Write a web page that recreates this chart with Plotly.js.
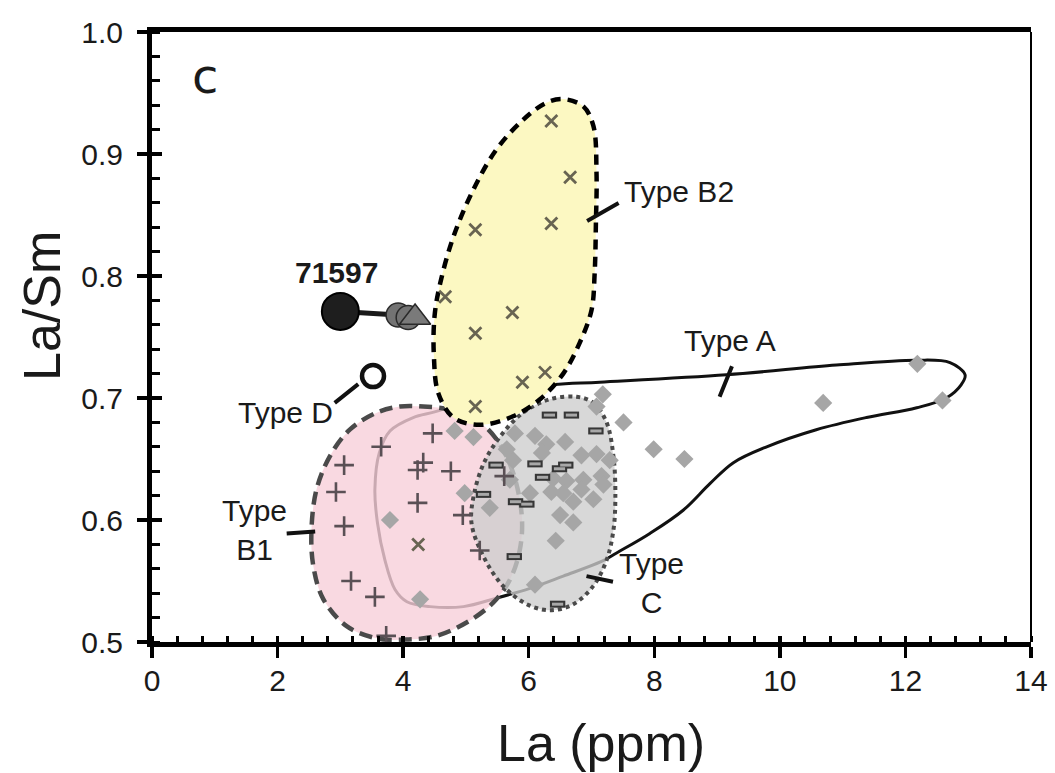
<!DOCTYPE html>
<html>
<head>
<meta charset="utf-8">
<script src="https://cdn.plot.ly/plotly-3.0.1.min.js"></script>
<style>
  html, body { margin: 0; padding: 0; background: #ffffff; }
  #chart { width: 1055px; height: 773px; }
</style>
</head>
<body>
<div id="chart"></div>
<script>
// ---- sample data: La (ppm) vs La/Sm ----
const typeA_La   = [4.82, 5.12, 4.98, 3.79, 4.27, 7.18, 7.08, 7.51, 7.99, 8.48, 10.69, 12.19, 12.59,
                    5.78, 6.10, 6.28, 6.58, 6.21, 6.84, 7.08, 7.29, 5.75, 5.70, 6.39, 6.60, 6.87,
                    7.16, 7.19, 6.36, 6.55, 6.71, 6.84, 7.03, 6.02, 5.38, 6.50, 6.71, 6.43, 6.10, 5.65];
const typeA_LaSm = [0.673, 0.668, 0.622, 0.600, 0.535, 0.703, 0.693, 0.680, 0.658, 0.650, 0.696, 0.728, 0.698,
                    0.671, 0.669, 0.662, 0.664, 0.655, 0.653, 0.654, 0.649, 0.649, 0.633, 0.634, 0.632, 0.633,
                    0.636, 0.629, 0.623, 0.622, 0.615, 0.625, 0.617, 0.622, 0.610, 0.604, 0.598, 0.583, 0.547, 0.658];

const typeB1_La   = [4.47, 3.65, 3.06, 4.32, 4.23, 4.76, 2.93, 4.23, 4.95, 3.06, 5.22, 3.17, 3.55, 3.73, 5.61];
const typeB1_LaSm = [0.671, 0.660, 0.645, 0.647, 0.641, 0.640, 0.623, 0.614, 0.604, 0.595, 0.575, 0.550, 0.537, 0.505, 0.636];

const typeB2_La   = [6.36, 6.66, 6.36, 5.15, 4.67, 5.74, 5.15, 6.26, 5.90, 5.15, 4.24];
const typeB2_LaSm = [0.927, 0.881, 0.843, 0.838, 0.783, 0.770, 0.753, 0.721, 0.713, 0.693, 0.580];

const typeC_La   = [6.33, 6.68, 7.07, 6.10, 6.59, 6.49, 6.22, 5.48, 5.28, 5.79, 5.97, 5.77, 6.46];
const typeC_LaSm = [0.686, 0.686, 0.673, 0.646, 0.645, 0.642, 0.635, 0.645, 0.621, 0.615, 0.613, 0.570, 0.531];

const typeD_La   = [3.52];
const typeD_LaSm = [0.718];

// 71597: whole-rock value and its gray companions
const s71597_La     = [3.00];
const s71597_LaSm   = [0.771];
const s71597g_La    = [3.92, 4.08];
const s71597g_LaSm  = [0.768, 0.766];
const s71597t_La    = [4.19];
const s71597t_LaSm  = [0.766];

// ---- field outlines ----
const fieldA_La   = [4.53, 5.40, 6.39, 7.13, 9.15, 10.90, 12.18, 12.71, 12.95, 12.89, 12.65, 12.18, 11.38,
                     10.58, 9.79, 9.26, 8.89, 8.46, 7.93, 7.40, 7.16, 6.55, 6.02, 5.49, 4.96, 4.43,
                     4.06, 3.87, 3.71, 3.59, 3.55, 3.62, 3.79, 4.16, 4.53];
const fieldA_LaSm = [0.689, 0.704, 0.711, 0.713, 0.719, 0.727, 0.731, 0.729, 0.719, 0.711, 0.700, 0.692, 0.684,
                     0.674, 0.660, 0.647, 0.630, 0.608, 0.589, 0.573, 0.566, 0.554, 0.544, 0.536, 0.529, 0.529,
                     0.533, 0.543, 0.567, 0.598, 0.625, 0.655, 0.673, 0.684, 0.689];

const fieldB1_La   = [4.32, 4.80, 5.22, 5.49, 5.75, 5.89, 5.86, 5.70, 5.43, 5.01, 4.53, 4.06, 3.58,
                      3.10, 2.73, 2.57, 2.54, 2.62, 2.83, 3.15, 3.58, 3.95, 4.32];
const fieldB1_LaSm = [0.693, 0.690, 0.680, 0.666, 0.639, 0.603, 0.576, 0.551, 0.532, 0.516, 0.505, 0.502, 0.503,
                      0.513, 0.535, 0.562, 0.592, 0.625, 0.652, 0.674, 0.688, 0.693, 0.693];

const fieldC_La   = [6.76, 7.03, 7.24, 7.35, 7.38, 7.35, 7.24, 7.03, 6.71, 6.34, 5.97, 5.59, 5.28,
                     5.09, 5.12, 5.28, 5.54, 5.91, 6.34, 6.76];
const fieldC_LaSm = [0.701, 0.696, 0.680, 0.652, 0.619, 0.592, 0.567, 0.546, 0.531, 0.526, 0.531, 0.546, 0.570,
                     0.597, 0.619, 0.646, 0.668, 0.688, 0.699, 0.701];

const fieldB2_La   = [6.55, 6.87, 7.03, 7.08, 7.07, 7.05, 7.00, 6.81, 6.55, 6.18, 5.75, 5.22, 4.80,
                      4.56, 4.49, 4.50, 4.59, 4.80, 5.12, 5.49, 5.91, 6.28, 6.55];
const fieldB2_LaSm = [0.945, 0.939, 0.923, 0.884, 0.843, 0.802, 0.772, 0.745, 0.720, 0.699, 0.685, 0.678, 0.684,
                      0.704, 0.734, 0.767, 0.794, 0.832, 0.871, 0.904, 0.928, 0.942, 0.945];

// ---- axis ticks ----
const xTicks = [0, 2, 4, 6, 8, 10, 12, 14];
const yTicks = [0.5, 0.6, 0.7, 0.8, 0.9, 1.0];
const yTickText = ['0.5', '0.6', '0.7', '0.8', '0.9', '1.0'];

// ---- field labels and their leader lines ----
const labelText = ['Type B2', 'Type A', 'Type<br>B1', 'Type<br>C', 'Type D', '<b>71597</b>'];
const labelLa   = [8.39, 9.20, 1.63, 7.96, 2.13, 2.94];
const labelLaSm = [0.869, 0.747, 0.592, 0.548, 0.688, 0.803];

const leaderLa   = [6.93, 9.04, 2.145, 6.92, 2.91];
const leaderLaSm = [0.845, 0.701, 0.589, 0.554, 0.696];
const leaderDx   = [33, 13, 30, 28, 25];
const leaderDy   = [-19, -32, -2, 6, -20];

const FONT = 'Liberation Sans, Arial, Helvetica, sans-serif';
const INK = '#1a1a1a';

const traces = [];

// Type A field (outline only)
traces.push({
  x: fieldA_La, y: fieldA_LaSm, type: 'scatter', mode: 'lines',
  line: { color: '#111111', width: 3, shape: 'spline', smoothing: 1 },
  hoverinfo: 'skip'
});
// Type B1 field
traces.push({
  x: fieldB1_La, y: fieldB1_LaSm, type: 'scatter', mode: 'lines', fill: 'toself',
  fillcolor: 'rgba(247,207,217,0.8)',
  line: { color: '#4a4a4a', width: 4.5, dash: '13px,7px', shape: 'spline', smoothing: 1 },
  hoverinfo: 'skip'
});
// Type C field
traces.push({
  x: fieldC_La, y: fieldC_LaSm, type: 'scatter', mode: 'lines', fill: 'toself',
  fillcolor: 'rgba(205,205,205,0.78)',
  line: { color: '#4a4a4a', width: 4, dash: '4px,4px', shape: 'spline', smoothing: 1 },
  hoverinfo: 'skip'
});
// Type B2 field
traces.push({
  x: fieldB2_La, y: fieldB2_LaSm, type: 'scatter', mode: 'lines', fill: 'toself',
  fillcolor: '#fcf8c2',
  line: { color: '#000000', width: 4.5, dash: '10px,7px', shape: 'spline', smoothing: 1 },
  hoverinfo: 'skip'
});

// Type A samples
traces.push({
  x: typeA_La, y: typeA_LaSm, type: 'scatter', mode: 'markers',
  marker: { symbol: 'diamond', size: 14, color: '#a6a6a6', line: { width: 0 } }
});
// Type C samples: dark frame then gray core
traces.push({
  x: typeC_La, y: typeC_LaSm, type: 'scatter', mode: 'markers',
  marker: { symbol: 'line-ew-open', size: 11, color: '#363636', line: { color: '#363636', width: 7 } }
});
traces.push({
  x: typeC_La, y: typeC_LaSm, type: 'scatter', mode: 'markers',
  marker: { symbol: 'line-ew-open', size: 8, color: '#a8a8a8', line: { color: '#a8a8a8', width: 3 } }
});
// Type B1 samples
traces.push({
  x: typeB1_La, y: typeB1_LaSm, type: 'scatter', mode: 'markers',
  marker: { symbol: 'cross-thin-open', size: 14, color: '#5a5055', line: { color: '#5a5055', width: 2.6 } }
});
// Type B2 samples
traces.push({
  x: typeB2_La, y: typeB2_LaSm, type: 'scatter', mode: 'markers',
  marker: { symbol: 'x-thin-open', size: 12, color: '#686452', line: { color: '#686452', width: 2.8 } }
});

// 71597 tie line
traces.push({
  x: [s71597_La[0], s71597g_La[0]], y: [s71597_LaSm[0], s71597g_LaSm[0]],
  type: 'scatter', mode: 'lines', line: { color: '#1a1a1a', width: 5 }
});
traces.push({
  x: s71597g_La, y: s71597g_LaSm, type: 'scatter', mode: 'markers',
  marker: { symbol: 'circle', size: 24, color: '#737373', line: { color: '#2a2a2a', width: 1.5 } }
});
traces.push({
  x: s71597t_La, y: s71597t_LaSm, type: 'scatter', mode: 'markers',
  marker: { symbol: 'triangle-up', size: 27, color: '#7a7a7a', line: { color: '#2a2a2a', width: 1.5 } }
});
traces.push({
  x: s71597_La, y: s71597_LaSm, type: 'scatter', mode: 'markers',
  marker: { symbol: 'circle', size: 37, color: '#1e1e1e', line: { color: '#000000', width: 2 } }
});
// Type D
traces.push({
  x: typeD_La, y: typeD_LaSm, type: 'scatter', mode: 'markers',
  marker: { symbol: 'circle', size: 22, color: '#ffffff', line: { color: '#111111', width: 4.5 } }
});

// overlay axes carrying the inward half of the tick marks
traces.push({ x: [null], y: [null], xaxis: 'x2', yaxis: 'y2', type: 'scatter', mode: 'markers', hoverinfo: 'skip' });

const annotations = [];
for (let i = 0; i < labelText.length; i++) {
  annotations.push({
    x: labelLa[i], y: labelLaSm[i], xref: 'x', yref: 'y', text: labelText[i],
    showarrow: false, xanchor: 'center', yanchor: 'middle',
    font: { family: FONT, size: 30, color: INK }
  });
}
for (let i = 0; i < leaderLa.length; i++) {
  annotations.push({
    x: leaderLa[i], y: leaderLaSm[i], xref: 'x', yref: 'y', text: '',
    showarrow: true, arrowhead: 0, arrowwidth: 4, arrowcolor: '#111111',
    ax: leaderDx[i], ay: leaderDy[i], standoff: 0, startstandoff: 0
  });
}
// panel letter
annotations.push({
  x: 0.84, y: 0.964, xref: 'x', yref: 'y', text: 'c', showarrow: false,
  xanchor: 'center', yanchor: 'middle',
  font: { family: 'DejaVu Sans, sans-serif', size: 48, color: INK }
});
// axis titles
annotations.push({
  x: -0.125, y: 0.551, xref: 'paper', yref: 'paper', text: 'La/Sm', textangle: -90,
  showarrow: false, xanchor: 'center', yanchor: 'middle',
  font: { family: FONT, size: 52, color: INK }
});
annotations.push({
  x: 0.511, y: -0.165, xref: 'paper', yref: 'paper', text: 'La (ppm)',
  showarrow: false, xanchor: 'center', yanchor: 'middle',
  font: { family: FONT, size: 52, color: INK }
});

const layout = {
  width: 1055, height: 773,
  margin: { l: 152, r: 24, t: 32, b: 131 },
  paper_bgcolor: '#ffffff', plot_bgcolor: '#ffffff',
  showlegend: false,
  xaxis: {
    range: [0, 14], tickvals: xTicks, ticktext: xTicks.map(String),
    ticks: 'outside', ticklen: 11, tickwidth: 3.5, tickcolor: '#000000',
    minor: { ticks: 'inside', dtick: 0.4, tick0: 0, ticklen: 6, tickwidth: 3, tickcolor: '#000000' },
    showline: true, linewidth: 5, linecolor: '#000000', mirror: true,
    showgrid: false, zeroline: false,
    tickfont: { family: FONT, size: 30, color: INK },
    ticklabelstandoff: -3
  },
  yaxis: {
    range: [0.5, 1.0], tickvals: yTicks, ticktext: yTickText,
    ticks: 'outside', ticklen: 10, tickwidth: 3.5, tickcolor: '#000000',
    minor: { ticks: 'inside', dtick: 0.02, tick0: 0.5, ticklen: 8, tickwidth: 3, tickcolor: '#000000' },
    showline: true, linewidth: 5, linecolor: '#000000', mirror: false,
    showgrid: false, zeroline: false,
    tickfont: { family: FONT, size: 30, color: INK },
    ticklabelstandoff: 8
  },
  xaxis2: {
    overlaying: 'x', matches: 'x', anchor: 'y', side: 'bottom',
    tickvals: xTicks, ticks: 'inside', ticklen: 6, tickwidth: 3.5, tickcolor: '#000000',
    showticklabels: false, showline: false, showgrid: false, zeroline: false
  },
  yaxis2: {
    overlaying: 'y', matches: 'y', anchor: 'x', side: 'left',
    tickvals: yTicks, ticks: 'inside', ticklen: 10, tickwidth: 3.5, tickcolor: '#000000',
    showticklabels: false, showline: false, showgrid: false, zeroline: false
  },
  shapes: [
    { type: 'line', xref: 'paper', yref: 'paper', x0: 1, x1: 1, y0: 0, y1: 1,
      line: { color: '#000000', width: 2 } }
  ],
  annotations: annotations
};

Plotly.newPlot('chart', traces, layout, { displayModeBar: false, staticPlot: true });
</script>
</body>
</html>
